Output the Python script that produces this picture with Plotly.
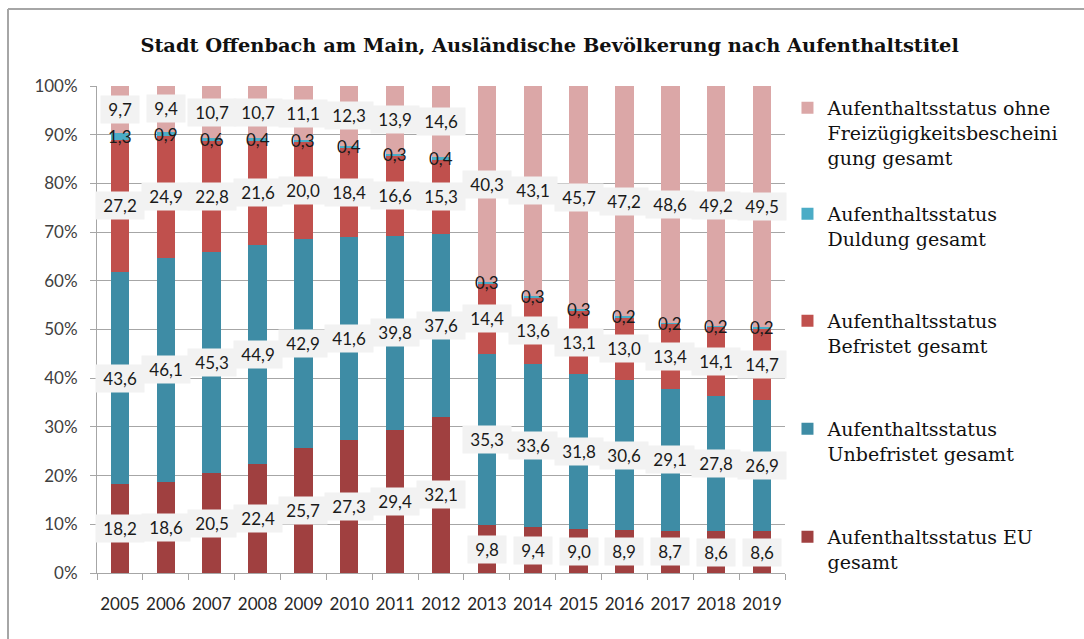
import plotly.graph_objects as go

years = [str(y) for y in range(2005, 2020)]
eu = [18.2, 18.6, 20.5, 22.4, 25.7, 27.3, 29.4, 32.1, 9.8, 9.4, 9.0, 8.9, 8.7, 8.6, 8.6]
unbefristet = [43.6, 46.1, 45.3, 44.9, 42.9, 41.6, 39.8, 37.6, 35.3, 33.6, 31.8, 30.6, 29.1, 27.8, 26.9]
befristet = [27.2, 24.9, 22.8, 21.6, 20.0, 18.4, 16.6, 15.3, 14.4, 13.6, 13.1, 13.0, 13.4, 14.1, 14.7]
duldung = [1.3, 0.9, 0.6, 0.4, 0.3, 0.4, 0.3, 0.4, 0.3, 0.3, 0.3, 0.2, 0.2, 0.2, 0.2]
ohne = [9.7, 9.4, 10.7, 10.7, 11.1, 12.3, 13.9, 14.6, 40.3, 43.1, 45.7, 47.2, 48.6, 49.2, 49.5]

names = [
    "Aufenthaltsstatus EU<br>gesamt",
    "Aufenthaltsstatus<br>Unbefristet gesamt",
    "Aufenthaltsstatus<br>Befristet gesamt",
    "Aufenthaltsstatus<br>Duldung gesamt",
    "Aufenthaltsstatus ohne<br>Freizügigkeitsbescheini<br>gung gesamt",
]
series = [eu, unbefristet, befristet, duldung, ohne]
colors = ["#A04040", "#3E8CA5", "#C0504D", "#4BACC6", "#DBA7A7"]
legend_ids = ["legend5", "legend4", "legend3", "legend2", "legend"]
legend_y = [0.1129, 0.3347, 0.5565, 0.7762, 0.9938]

LABEL_FONT = "Lato, Liberation Sans, sans-serif"
SERIF = "DejaVu Serif, serif"

fig = go.Figure()
for i, (nm, vals, col) in enumerate(zip(names, series, colors)):
    fig.add_trace(go.Bar(
        x=years, y=vals, name=nm, marker=dict(color=col, line=dict(width=0)),
        legend=legend_ids[i], hoverinfo="skip",
    ))

# data labels
annotations = []
for j, yr in enumerate(years):
    total = sum(s[j] for s in series)
    cum = 0.0
    for i, vals in enumerate(series):
        v = vals[j]
        center = (cum + v / 2) / total * 100
        cum += v
        txt = f"{v:.1f}".replace(".", ",")
        is_duld = (i == 3)
        annotations.append(dict(
            x=j, y=center, xref="x", yref="y",
            text=txt if is_duld else "\u00a0" + txt + "\u00a0",
            showarrow=False, font=dict(family=LABEL_FONT, size=17, color="#1a1a1a"),
            bgcolor="rgba(0,0,0,0)" if is_duld else "#F2F2F2", borderpad=3,
        ))

legend_common = dict(
    x=1.0036, xanchor="left", yanchor="top", valign="top",
    font=dict(family=SERIF, size=19, color="#111111"),
    bgcolor="rgba(0,0,0,0)",
)
legends = {}
for i, lid in enumerate(legend_ids):
    legends[lid] = dict(legend_common, y=legend_y[i])

fig.update_layout(
    width=1084, height=639,
    barmode="stack", barnorm="percent", bargap=0.6,
    paper_bgcolor="white", plot_bgcolor="white",
    margin=dict(l=97, r=299, t=86, b=66),
    title=dict(
        text="<b>Stadt Offenbach am Main, Ausländische Bevölkerung nach Aufenthaltstitel</b>",
        x=0.507, xanchor="center", y=0.93, yanchor="middle",
        font=dict(family=SERIF, size=19.4, color="#111111"),
    ),
    annotations=annotations,
    showlegend=True,
    **legends,
)
fig.update_yaxes(
    range=[0, 100], tickvals=list(range(0, 101, 10)),
    ticktext=[f"{v}%" for v in range(0, 101, 10)],
    showgrid=True, gridcolor="#A6A6A6", gridwidth=1,
    showline=True, linecolor="#A6A6A6", linewidth=1,
    ticks="outside", ticklen=6, tickcolor="#A6A6A6", ticklabelstandoff=9,
    tickfont=dict(family=LABEL_FONT, size=17, color="#404040"),
    zeroline=False, automargin=False,
)
fig.update_xaxes(
    type="category", range=[-0.5, len(years) - 0.5], tickangle=0,
    showline=True, linecolor="#A6A6A6", linewidth=1,
    ticks="outside", ticklen=6, tickcolor="#A6A6A6", tickson="boundaries",
    ticklabelstandoff=16,
    tickfont=dict(family=LABEL_FONT, size=17, color="#262626"),
    automargin=False,
)

# outer chart border (top and left visible)
pw = 1084 - 97 - 299
ph = 639 - 86 - 66
x_left = (8 - 97) / pw
y_top = 1 + (86 - 9) / ph
fig.add_shape(type="line", xref="paper", yref="paper", x0=x_left, x1=2, y0=y_top, y1=y_top,
              line=dict(color="#A6A6A6", width=2))
fig.add_shape(type="line", xref="paper", yref="paper", x0=x_left, x1=x_left, y0=y_top, y1=-1,
              line=dict(color="#A6A6A6", width=2))

fig.write_html(
    "out.html",
    config={"displayModeBar": False},
    post_script="document.body.style.margin='0';document.body.style.overflow='hidden';",
)
